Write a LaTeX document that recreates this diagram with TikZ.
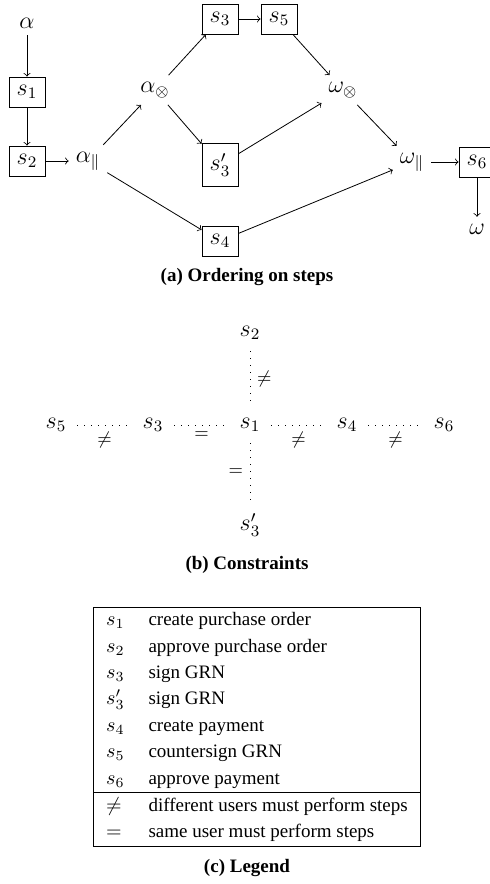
\documentclass[tikz,border=0pt]{standalone}
\usepackage{amsmath,amssymb,array}
\usepackage{fontspec}
\setmainfont{Liberation Serif}
\usetikzlibrary{positioning}

\begin{document}
\begin{tikzpicture}[
  font=\fontsize{12pt}{14pt}\selectfont,
  on grid,
  node distance=35pt and 32.5pt,
  stepbox/.style={draw, minimum width=18pt, minimum height=15pt, inner sep=3pt},
  arr/.style={->},
  cons/.style={dash pattern=on 0.5pt off 3pt, shorten <=2pt, shorten >=2pt},
  rel/.style={font=\fontsize{9.5pt}{11pt}\selectfont},
  captxt/.style={font=\fontsize{9.5pt}{11pt}\selectfont\bfseries}]
\useasboundingbox (0,0) rectangle (245pt,-442pt);
% (a) ordering on steps
\node (a) at (13.5pt,-11.5pt) {$\alpha$};
\node[stepbox, below=34.5pt of a] (s1) {$s_1$};
\node[stepbox, below=34.5pt of s1] (s2) {$s_2$};
\node[right=30.5pt of s2] (apar) {$\alpha_{\parallel}$};
\node[above right=35.5pt and 33.5pt of apar] (aot) {$\alpha_{\otimes}$};
\node[stepbox, above right=35.5pt and 32.5pt of aot] (s3) {$s_3$};
\node[stepbox, minimum height=21.5pt, below right=37.5pt and 32.5pt of aot] (s3p) {$s_3'$};
\node[stepbox, below=38pt of s3p] (s4) {$s_4$};
\node[stepbox, right=29.5pt of s3] (s5) {$s_5$};
\node[below right=35.5pt and 32pt of s5] (wot) {$\omega_{\otimes}$};
\node[below right=36pt and 34.5pt of wot] (wpar) {$\omega_{\parallel}$};
\node[stepbox, right=32.5pt of wpar] (s6) {$s_6$};
\node[below=33.5pt of s6] (w) {$\omega$};
\draw[arr] (a) -- (s1);
\draw[arr] (s1) -- (s2);
\draw[arr] (s2) -- (apar);
\draw[arr] (apar) -- (aot);
\draw[arr] (apar) -- (s4);
\draw[arr] (aot) -- (s3);
\draw[arr] (aot) -- (s3p);
\draw[arr] (s3) -- (s5);
\draw[arr] (s5) -- (wot);
\draw[arr] (s3p) -- (wot);
\draw[arr] (wot) -- (wpar);
\draw[arr] (s4) -- (wpar);
\draw[arr] (wpar) -- (s6);
\draw[arr] (s6) -- (w);
\node[captxt] (capa) at (123.5pt,-138.5pt) {(a) Ordering on steps};
% (b) constraints
\node (c1) at (125pt,-212.5pt) {$s_1$};
\node[above=46pt of c1] (c2) {$s_2$};
\node[below=50pt of c1] (c3p) {$s_3'$};
\node[left=48.5pt of c1] (c3) {$s_3$};
\node[left=48.5pt of c3] (c5) {$s_5$};
\node[right=48.5pt of c1] (c4) {$s_4$};
\node[right=48.5pt of c4] (c6) {$s_6$};
\draw[cons] (c2) -- node[rel, right] {$\neq$} (c1);
\draw[cons] (c1) -- node[rel, left] {$=$} (c3p);
\draw[cons] (c5) -- node[rel, below] {$\neq$} (c3);
\draw[cons] (c3) -- node[rel, below] {$=$} (c1);
\draw[cons] (c1) -- node[rel, below] {$\neq$} (c4);
\draw[cons] (c4) -- node[rel, below] {$\neq$} (c6);
\node[captxt] (capb) at (123.5pt,-282.5pt) {(b) Constraints};
% (c) legend
\node[inner sep=0pt, font=\fontsize{9.5pt}{11pt}\selectfont] (legend) at (128.5pt,-363.25pt) {\renewcommand{\arraystretch}{1.2}%
  \begin{tabular}{|>{\fontsize{10pt}{11pt}\selectfont$}l<{$}l|}
    \hline
    s_1 & create purchase order\\
    s_2 & approve purchase order\\
    s_3 & sign GRN\\
    s_3' & sign GRN\\
    s_4 & create payment\\
    s_5 & countersign GRN\\
    s_6 & approve payment\\
    \hline
    \neq & different users must perform steps\\
    = & same user must perform steps\\
    \hline
  \end{tabular}};
\node[captxt] (capc) at (123.5pt,-434pt) {(c) Legend};
\end{tikzpicture}
\end{document}
